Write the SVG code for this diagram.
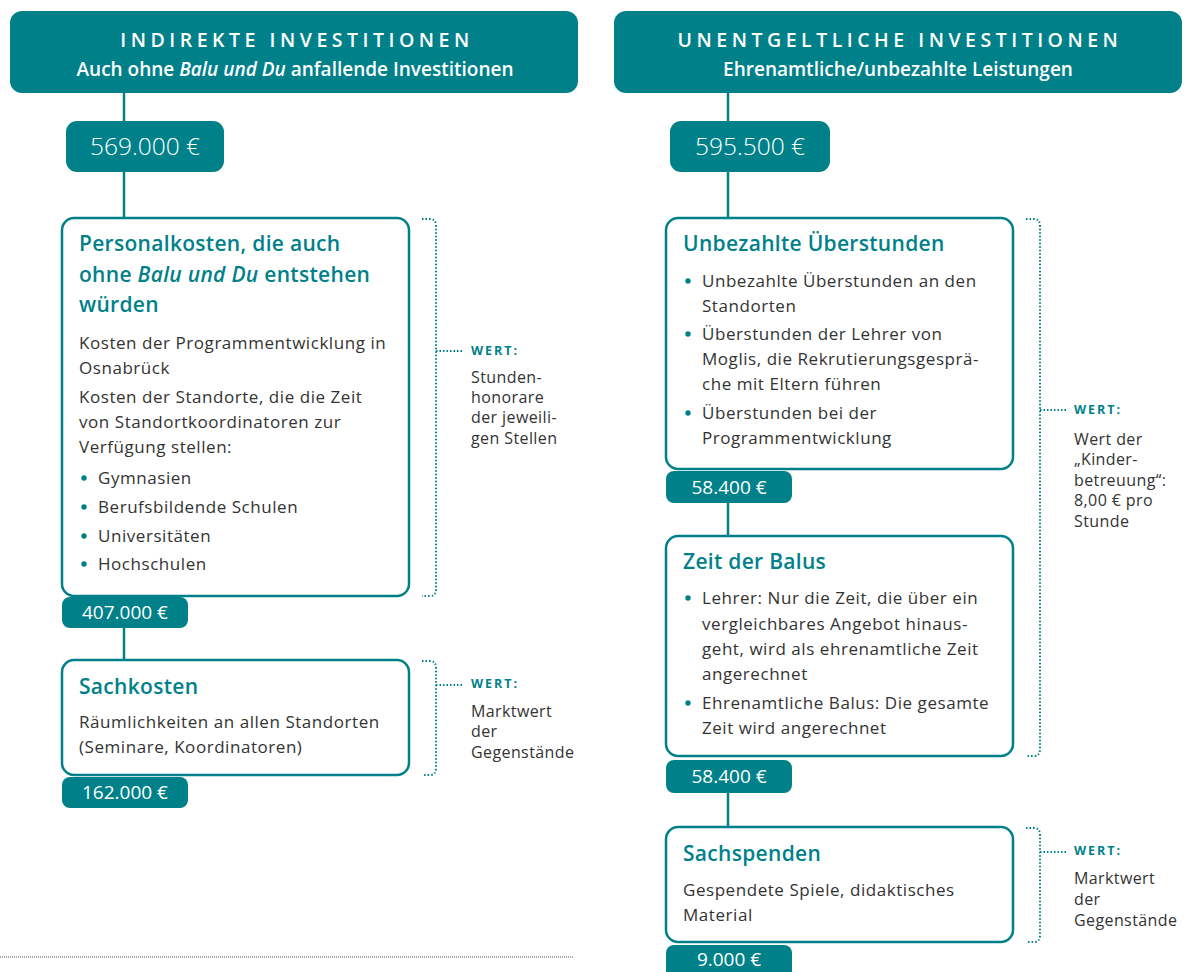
<svg xmlns="http://www.w3.org/2000/svg" width="1196" height="972" viewBox="0 0 1196 972">
<style>
.hdr{fill:#00818a}
.ht{font-family:"Open Sans","Liberation Sans",sans-serif;font-weight:600;font-size:19.5px;fill:#fff;letter-spacing:4.5px;text-anchor:middle}
.hs{font-family:"Open Sans","Liberation Sans",sans-serif;font-weight:600;font-size:19px;fill:#fff;text-anchor:middle}
.amt{fill:#00818a}
.amtt{font-family:"Open Sans","Liberation Sans",sans-serif;font-weight:300;font-size:24.5px;fill:#fff;text-anchor:middle}
.tabt{font-family:"Open Sans","Liberation Sans",sans-serif;font-weight:400;font-size:19px;fill:#fff;text-anchor:middle}
.box{fill:#fff;stroke:#00818a;stroke-width:2.5}
.ti{font-family:"Open Sans","Liberation Sans",sans-serif;font-weight:600;font-size:21px;fill:#00818a;letter-spacing:0.3px}
.bd{font-family:"Open Sans","Liberation Sans",sans-serif;font-weight:400;font-size:17px;fill:#333;letter-spacing:0.55px}
.bu{fill:#00818a}
.wl{font-family:"Open Sans","Liberation Sans",sans-serif;font-weight:700;font-size:12.5px;fill:#00818a;letter-spacing:2px}
.wt{font-family:"Open Sans","Liberation Sans",sans-serif;font-weight:400;font-size:16px;fill:#333;letter-spacing:0.4px}
.ln{stroke:#00818a;stroke-width:2.5;fill:none}
.dot{stroke:#00818a;stroke-width:2;fill:none;stroke-dasharray:1.5 2}
</style>

<g id="connectors">
<line class="ln" x1="124" y1="93" x2="124" y2="218"/>
<line class="ln" x1="124" y1="628" x2="124" y2="660"/>
<line class="ln" x1="728" y1="93" x2="728" y2="218"/>
<line class="ln" x1="728" y1="503" x2="728" y2="536"/>
<line class="ln" x1="728" y1="793" x2="728" y2="827"/>
</g>

<g id="header-left">
<rect class="hdr" x="10" y="11" width="568" height="82" rx="12"/>
<text class="ht" x="297" y="47">INDIREKTE INVESTITIONEN</text>
<text class="hs" x="295" y="76">Auch ohne <tspan font-style="italic">Balu und Du</tspan> anfallende Investitionen</text>
</g>

<g id="header-right">
<rect class="hdr" x="614" y="11" width="568" height="82" rx="12"/>
<text class="ht" x="900" y="47">UNENTGELTLICHE INVESTITIONEN</text>
<text class="hs" x="898" y="76">Ehrenamtliche/unbezahlte Leistungen</text>
</g>

<g id="total-left">
<rect class="amt" x="66" y="121" width="158" height="51" rx="11"/>
<text class="amtt" x="145" y="155">569.000 €</text>
</g>

<g id="total-right">
<rect class="amt" x="670" y="121" width="160" height="51" rx="11"/>
<text class="amtt" x="750" y="155">595.500 €</text>
</g>

<g id="personalkosten">
<rect class="box" x="62" y="218" width="347" height="378" rx="12"/>
<text class="ti" x="79" y="251">Personalkosten, die auch</text>
<text class="ti" x="79" y="282">ohne <tspan font-style="italic">Balu und Du</tspan> entstehen</text>
<text class="ti" x="79" y="312">würden</text>
<text class="bd" x="79" y="349">Kosten der Programmentwicklung in</text>
<text class="bd" x="79" y="374">Osnabrück</text>
<text class="bd" x="79" y="403">Kosten der Standorte, die die Zeit</text>
<text class="bd" x="79" y="428">von Standortkoordinatoren zur</text>
<text class="bd" x="79" y="453">Verfügung stellen:</text>
<circle class="bu" cx="84" cy="478" r="2.7"/><text class="bd" x="98" y="484">Gymnasien</text>
<circle class="bu" cx="84" cy="507" r="2.7"/><text class="bd" x="98" y="513">Berufsbildende Schulen</text>
<circle class="bu" cx="84" cy="536" r="2.7"/><text class="bd" x="98" y="542">Universitäten</text>
<circle class="bu" cx="84" cy="564" r="2.7"/><text class="bd" x="98" y="570">Hochschulen</text>
</g>
<g id="tab-407">
<rect class="amt" x="62" y="597" width="126" height="31" rx="8"/>
<text class="tabt" x="125" y="619">407.000 €</text>
</g>

<g id="sachkosten">
<rect class="box" x="62" y="660" width="347" height="115" rx="12"/>
<text class="ti" x="79" y="694">Sachkosten</text>
<text class="bd" x="79" y="728">Räumlichkeiten an allen Standorten</text>
<text class="bd" x="79" y="753">(Seminare, Koordinatoren)</text>
</g>
<g id="tab-162">
<rect class="amt" x="62" y="777" width="126" height="31" rx="8"/>
<text class="tabt" x="125" y="799">162.000 €</text>
</g>

<g id="ueberstunden">
<rect class="box" x="666" y="218" width="347" height="251" rx="12"/>
<text class="ti" x="683" y="251">Unbezahlte Überstunden</text>
<circle class="bu" cx="688" cy="281" r="2.7"/><text class="bd" x="702" y="287">Unbezahlte Überstunden an den</text>
<text class="bd" x="702" y="312">Standorten</text>
<circle class="bu" cx="688" cy="334" r="2.7"/><text class="bd" x="702" y="340">Überstunden der Lehrer von</text>
<text class="bd" x="702" y="365">Moglis, die Rekrutierungsgesprä-</text>
<text class="bd" x="702" y="390">che mit Eltern führen</text>
<circle class="bu" cx="688" cy="413" r="2.7"/><text class="bd" x="702" y="419">Überstunden bei der</text>
<text class="bd" x="702" y="444">Programmentwicklung</text>
</g>
<g id="tab-58400a">
<rect class="amt" x="666" y="471" width="126" height="32" rx="8"/>
<text class="tabt" x="729" y="494">58.400 €</text>
</g>

<g id="zeit-balus">
<rect class="box" x="666" y="536" width="347" height="220" rx="12"/>
<text class="ti" x="683" y="569">Zeit der Balus</text>
<circle class="bu" cx="688" cy="598" r="2.7"/><text class="bd" x="702" y="604">Lehrer: Nur die Zeit, die über ein</text>
<text class="bd" x="702" y="630">vergleichbares Angebot hinaus-</text>
<text class="bd" x="702" y="655">geht, wird als ehrenamtliche Zeit</text>
<text class="bd" x="702" y="680">angerechnet</text>
<circle class="bu" cx="688" cy="703" r="2.7"/><text class="bd" x="702" y="709">Ehrenamtliche Balus: Die gesamte</text>
<text class="bd" x="702" y="734">Zeit wird angerechnet</text>
</g>
<g id="tab-58400b">
<rect class="amt" x="666" y="760" width="126" height="33" rx="8"/>
<text class="tabt" x="729" y="783">58.400 €</text>
</g>

<g id="sachspenden">
<rect class="box" x="666" y="827" width="347" height="115" rx="12"/>
<text class="ti" x="683" y="861">Sachspenden</text>
<text class="bd" x="683" y="896">Gespendete Spiele, didaktisches</text>
<text class="bd" x="683" y="921">Material</text>
</g>
<g id="tab-9000">
<rect class="amt" x="666" y="945" width="126" height="34" rx="8"/>
<text class="tabt" x="729" y="966">9.000 €</text>
</g>

<g id="wert-personal">
<path class="dot" d="M422,219 H430 Q436,219 436,226 V589 Q436,596 430,596 H422"/>
<line class="dot" x1="436" y1="351" x2="463" y2="351"/>
<text class="wl" x="471" y="355">WERT:</text>
<text class="wt" x="471" y="383">Stunden-</text>
<text class="wt" x="471" y="403">honorare</text>
<text class="wt" x="471" y="423">der jeweili-</text>
<text class="wt" x="471" y="444">gen Stellen</text>
</g>

<g id="wert-sachkosten">
<path class="dot" d="M422,661 H430 Q436,661 436,668 V768 Q436,775 430,775 H422"/>
<line class="dot" x1="436" y1="685" x2="463" y2="685"/>
<text class="wl" x="471" y="688">WERT:</text>
<text class="wt" x="471" y="717">Marktwert</text>
<text class="wt" x="471" y="737">der</text>
<text class="wt" x="471" y="758">Gegenstände</text>
</g>

<g id="wert-zeit">
<path class="dot" d="M1026,219 H1034 Q1040,219 1040,226 V749 Q1040,756 1034,756 H1026"/>
<line class="dot" x1="1040" y1="410" x2="1066" y2="410"/>
<text class="wl" x="1074" y="414">WERT:</text>
<text class="wt" x="1074" y="445">Wert der</text>
<text class="wt" x="1074" y="465">„Kinder-</text>
<text class="wt" x="1074" y="486">betreuung“:</text>
<text class="wt" x="1074" y="506">8,00 € pro</text>
<text class="wt" x="1074" y="527">Stunde</text>
</g>

<g id="wert-sachspenden">
<path class="dot" d="M1026,828 H1034 Q1040,828 1040,835 V935 Q1040,942 1034,942 H1026"/>
<line class="dot" x1="1040" y1="852" x2="1066" y2="852"/>
<text class="wl" x="1074" y="855">WERT:</text>
<text class="wt" x="1074" y="884">Marktwert</text>
<text class="wt" x="1074" y="905">der</text>
<text class="wt" x="1074" y="926">Gegenstände</text>
</g>

<line id="footer-rule" x1="0" y1="957" x2="574" y2="957" stroke="#555" stroke-width="1" stroke-dasharray="1 1"/>
</svg>
